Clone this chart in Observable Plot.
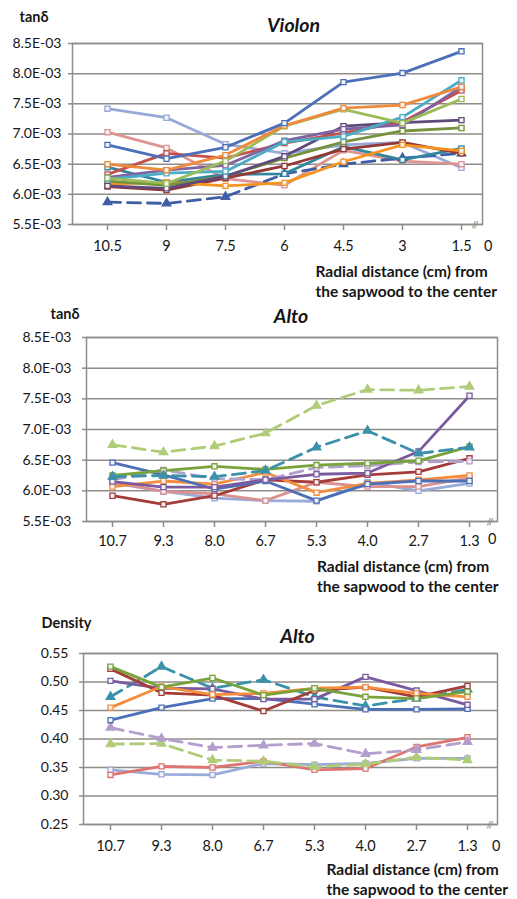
<!DOCTYPE html>
<html><head><meta charset="utf-8">
<script src="https://cdn.jsdelivr.net/npm/d3@7"></script>
<script src="https://cdn.jsdelivr.net/npm/@observablehq/plot@0.6"></script>
<style>body{margin:0;background:#fff;} svg{display:block;}</style>
</head><body><div id="chart"></div>
<script>
// ---------- categories & ticks ----------
const violonX = ["10.5","9","7.5","6","4.5","3","1.5"];
const altoX = ["10.7","9.3","8.0","6.7","5.3","4.0","2.7","1.3"];
const tanTicks = [5.5,6.0,6.5,7.0,7.5,8.0,8.5];          // ×1E-03
const densityTicks = [0.25,0.30,0.35,0.40,0.45,0.50,0.55];
const xTitle = "Radial distance (cm) from\nthe sapwood to the center";

// ---------- Violon tanδ (×1E-03) ----------
const vBlue       = [6.82, 6.59, 6.78, 7.18, 7.86, 8.01, 8.37];
const vPeriwinkle = [7.42, 7.27, 6.83, 6.68, 6.82, 6.86, 6.44];
const vPink       = [7.03, 6.77, 6.26, 6.15, 6.73, 6.55, 6.50];
const vOrange     = [6.50, 6.40, 6.65, 7.14, 7.43, 7.48, 7.78];
const vOrange2    = [6.17, 6.20, 6.14, 6.19, 6.54, 6.82, 6.72];
const vMaroon     = [6.13, 6.07, 6.27, 6.47, 6.75, 6.86, 6.68];
const vRed        = [6.33, 6.68, 6.60, 6.85, 7.02, 7.20, 7.72];
const vPurple     = [6.28, 6.40, 6.48, 6.89, 7.08, 7.15, 7.78];
const vDarkPurple = [6.14, 6.10, 6.30, 6.63, 7.13, 7.19, 7.23];
const vGreen      = [6.27, 6.18, 6.55, 7.13, 7.41, 7.18, 7.58];
const vOlive      = [6.22, 6.15, 6.30, 6.60, 6.87, 7.05, 7.10];
const vTeal       = [6.25, 6.35, 6.38, 6.87, 6.96, 7.28, 7.89];
const vDarkTeal   = [6.45, 6.20, 6.33, 6.34, 6.79, 6.57, 6.76];
const vNavyDash   = [5.87, 5.85, 5.96, 6.34, 6.50, 6.60, 6.68];

// ---------- Alto tanδ (×1E-03) ----------
const aGreenDash  = [6.75, 6.63, 6.73, 6.94, 7.39, 7.65, 7.64, 7.70];
const aTealDash   = [6.23, 6.25, 6.23, 6.33, 6.71, 6.98, 6.61, 6.71];
const aPurple     = [6.15, 6.06, 6.06, 6.18, 6.27, 6.29, 6.64, 7.55];
const aGreen      = [6.25, 6.33, 6.40, 6.35, 6.42, 6.45, 6.49, 6.72];
const aLavDash    = [6.18, 6.34, 6.20, 6.18, 6.38, 6.41, 6.47, 6.48];
const aBlue       = [6.46, 6.26, 6.03, 6.16, 5.84, 6.11, 6.16, 6.16];
const aPeriwinkle = [6.13, 5.99, 5.88, 5.84, 5.83, 6.14, 6.00, 6.12];
const aOrange     = [6.07, 6.16, 6.11, 6.30, 5.97, 6.12, 6.18, 6.25];
const aDarkRed    = [5.92, 5.78, 5.92, 6.18, 6.14, 6.26, 6.31, 6.53];
const aPink       = [6.14, 5.99, 5.95, 5.84, 6.14, 6.07, 6.07, 6.21];

// ---------- Alto density ----------
const dGreen      = [0.527, 0.491, 0.507, 0.477, 0.489, 0.474, 0.471, 0.483];
const dDarkRed    = [0.523, 0.481, 0.477, 0.449, 0.485, 0.491, 0.474, 0.493];
const dPurple     = [0.502, 0.489, 0.488, 0.470, 0.470, 0.509, 0.485, 0.460];
const dOrange     = [0.455, 0.492, 0.478, 0.480, 0.489, 0.491, 0.480, 0.474];
const dBlue       = [0.433, 0.455, 0.471, 0.471, 0.461, 0.452, 0.452, 0.453];
const dTealDash   = [0.474, 0.527, 0.489, 0.504, 0.474, 0.458, 0.471, 0.487];
const dLavDash    = [0.420, 0.401, 0.385, 0.389, 0.392, 0.374, 0.381, 0.395];
const dGreenDash  = [0.391, 0.392, 0.363, 0.361, 0.351, 0.356, 0.368, 0.363];
const dPeriwinkle = [0.346, 0.338, 0.337, 0.357, 0.355, 0.357, 0.366, 0.366];
const dSalmon     = [0.337, 0.352, 0.350, 0.361, 0.346, 0.348, 0.386, 0.403];

// ---------- styles ----------
const grid = "#8f8c89";
const ink = "#161616";
const S = (values, color, dash = false, symbol = "square") => ({values, color, dash, symbol});

const violonSeries = [
  S(vPeriwinkle, "#98a8d8"), S(vPink, "#dc9593"), S(vNavyDash, "#3f5ea5", true, "triangle"),
  S(vDarkTeal, "#31859c"), S(vMaroon, "#943634"), S(vOrange2, "#f7941f"),
  S(vOlive, "#76923c"), S(vDarkPurple, "#604a7b"), S(vRed, "#c4504c"),
  S(vPurple, "#8064a2"), S(vTeal, "#4bacc6"), S(vGreen, "#9bbb59"),
  S(vOrange, "#ee8a3c"), S(vBlue, "#4c70b8")
];
const altoSeries = [
  S(aPeriwinkle, "#9aabd9"), S(aPink, "#da918f"), S(aDarkRed, "#a43c38"),
  S(aOrange, "#f58d3c"), S(aBlue, "#4c70b8"), S(aLavDash, "#b29fcb", true),
  S(aPurple, "#7b5b9f"), S(aGreen, "#78a23a"), S(aTealDash, "#3c91aa", true, "triangle"),
  S(aGreenDash, "#b0cc78", true, "triangle")
];
const densitySeries = [
  S(dPeriwinkle, "#9aabd9"), S(dSalmon, "#de746f"), S(dGreenDash, "#b0cc78", true, "triangle"),
  S(dLavDash, "#b29fcb", true, "triangle"), S(dTealDash, "#3c91aa", true, "triangle"),
  S(dBlue, "#4c70b8"), S(dPurple, "#7b5b9f"), S(dDarkRed, "#a43c38"),
  S(dOrange, "#f58d3c"), S(dGreen, "#78a23a")
];

function panel(o) {
  const marks = [
    Plot.gridY(o.yTicks, {stroke: grid, strokeOpacity: 1, strokeWidth: 1.5}),
    Plot.frame({stroke: grid, strokeWidth: 1.5}),
    Plot.axisY(o.yTicks, {tickSize: 4, tickPadding: o.yPad, stroke: grid, strokeWidth: 1.5,
      fill: ink, fontSize: 14, tickFormat: o.yFormat, label: null}),
    Plot.axisX(o.cats, {tickSize: 6, tickPadding: o.xPad, stroke: grid, strokeWidth: 1.5,
      fill: ink, fontSize: 14.5, label: null})
  ];
  for (const s of o.series) {
    const d = s.values.map((v, i) => ({x: o.cats[i], y: v}));
    marks.push(Plot.line(d, {x: "x", y: "y", stroke: s.color, strokeWidth: 2.8,
      strokeDasharray: s.dash ? "13,7" : null, strokeLinejoin: "round"}));
  }
  for (const s of o.series) {
    const d = s.values.map((v, i) => ({x: o.cats[i], y: v}));
    marks.push(Plot.dot(d, {x: "x", y: "y", symbol: s.symbol, r: s.symbol === "triangle" ? 3.2 : 2.9,
      stroke: s.color, fill: s.symbol === "triangle" ? s.color : "#f4f4f8", strokeWidth: 1.3}));
  }
  marks.push(
    Plot.text([o.ylabel], {frameAnchor: "top-left", dx: o.ylabDx, dy: o.ylabDy, textAnchor: "start",
      lineAnchor: "bottom", fontWeight: "bold", fontSize: 14.5, fill: ink}),
    Plot.text([o.title], {frameAnchor: "top", dx: o.titleDx, dy: o.titleDy, lineAnchor: "bottom",
      fontWeight: "bold", fontStyle: "italic", fontSize: 19.5, fill: ink}),
    Plot.text([xTitle], {frameAnchor: "bottom", dx: o.xtDx, dy: o.xtDy, textAnchor: "start",
      lineAnchor: "bottom", fontWeight: "bold", fontSize: 15.5, lineHeight: 1.27, fill: ink}),
    Plot.text(["0"], {frameAnchor: "bottom-right", dx: o.zeroDx, dy: o.zeroDy, lineAnchor: "bottom",
      fontSize: 14.5, fill: ink}),
    Plot.text(["//"], {frameAnchor: "bottom-right", dx: -4, dy: 0, lineAnchor: "middle",
      fontSize: 10, fontWeight: "bold", fill: grid})
  );
  return Plot.plot({
    width: 517, height: o.height,
    marginLeft: o.ml, marginRight: o.mr, marginTop: o.mt, marginBottom: o.mb,
    x: {type: "point", domain: o.cats, padding: o.padding, align: o.align},
    y: {domain: o.yDomain},
    style: {fontFamily: "Lato, 'DejaVu Sans', sans-serif", fontSize: "14px", background: "#fff", color: ink, overflow: "visible"},
    marks
  });
}

const fmtE = d => d.toFixed(1) + "E-03";
const fmtD = d => d.toFixed(2);
const root = document.getElementById("chart");

root.append(panel({
  cats: violonX, series: violonSeries, yTicks: tanTicks, yDomain: [5.5, 8.5], yFormat: fmtE,
  height: 300, ml: 72, mr: 35, mt: 43, mb: 76, padding: 0.445, align: 0.62,
  yPad: 7, xPad: 10, ylabel: "tanδ", ylabDx: -53, ylabDy: -22, title: "Violon", titleDx: 16, titleDy: -12,
  xtDx: 38, xtDy: 72, zeroDx: 10, zeroDy: 26
}));
root.append(panel({
  cats: altoX, series: altoSeries, yTicks: tanTicks, yDomain: [5.5, 8.5], yFormat: fmtE,
  height: 300, ml: 86, mr: 20, mt: 37, mb: 79, padding: 0.507, align: 0.48,
  yPad: 11, xPad: 8, ylabel: "tanδ", ylabDx: -36, ylabDy: -19, title: "Alto", titleDx: -1, titleDy: -15,
  xtDx: 25, xtDy: 70, zeroDx: -1, zeroDy: 22
}));
root.append(panel({
  cats: altoX, series: densitySeries, yTicks: densityTicks, yDomain: [0.25, 0.55], yFormat: fmtD,
  height: 299, ml: 83, mr: 20, mt: 53, mb: 75, padding: 0.525, align: 0.48,
  yPad: 11, xPad: 10, ylabel: "Density", ylabDx: -42, ylabDy: -26, title: "Alto", titleDx: 7, titleDy: -11,
  xtDx: 36, xtDy: 70, zeroDx: 3, zeroDy: 26
}));
</script></body></html>
